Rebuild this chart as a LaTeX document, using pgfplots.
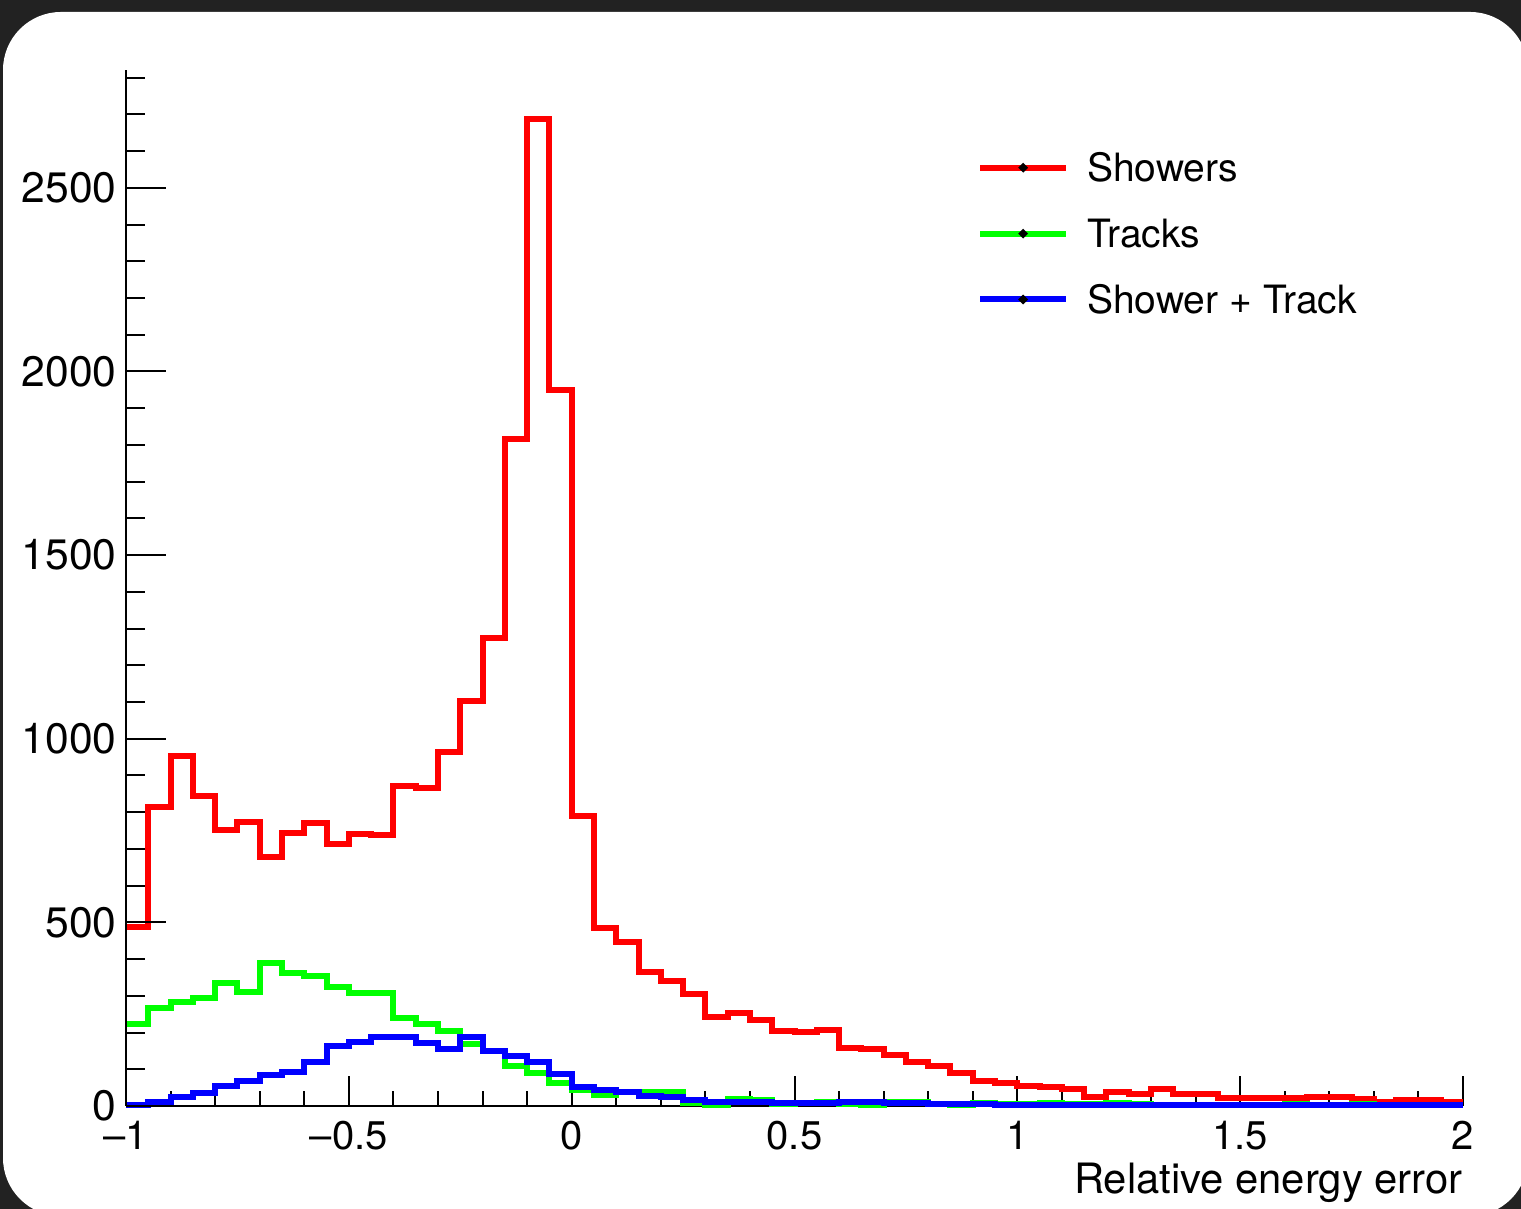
\documentclass[border=0pt]{standalone}
\usepackage{pgfplots}
\pgfplotsset{compat=1.18}
\usepackage{pgfplotstable}
\usepackage{fontspec}
\setmainfont{TeX Gyre Heros}
\definecolor{bgdark}{RGB}{34,34,34}
\definecolor{rootred}{RGB}{255,0,0}
\definecolor{rootgreen}{RGB}{0,255,0}
\definecolor{rootblue}{RGB}{0,0,255}

\pgfplotstableread{
x red green blue
-1.00 487 223 3
-0.95 815 266 12
-0.90 954 284 24
-0.85 845 293 35
-0.80 752 334 54
-0.75 773 310 69
-0.70 677 390 84
-0.65 743 361 93
-0.60 771 354 121
-0.55 713 323 164
-0.50 740 307 175
-0.45 738 307 187
-0.40 871 239 187
-0.35 865 222 171
-0.30 964 205 155
-0.25 1103 170 189
-0.20 1275 150 151
-0.15 1817 108 136
-0.10 2687 90 121
-0.05 1949 62 87
0.00 790 44 52
0.05 484 30 44
0.10 446 38 39
0.15 366 38 26
0.20 340 38 25
0.25 304 8 16
0.30 242 3 12
0.35 252 20 10
0.40 234 16 10
0.45 205 6 8
0.50 202 8 8
0.55 207 10 9
0.60 157 6 10
0.65 154 4 10
0.70 139 10 8
0.75 120 12 7
0.80 109 6 6
0.85 91 3 5
0.90 69 8 5
0.95 63 6 4
1.00 54 5 4
1.05 51 8 4
1.10 45 6 4
1.15 24 5 4
1.20 37 8 3
1.25 32 6 4
1.30 45 4 4
1.35 32 3 3
1.40 32 4 3
1.45 21 3 3
1.50 21 2 3
1.55 21 4 3
1.60 21 6 3
1.65 25 3 3
1.70 25 4 3
1.75 18 6 3
1.80 10 3 4
1.85 16 2 3
1.90 16 3 3
1.95 10 2 3
2.00 10 2 3
}\histdata

\pgfplotsset{
  common/.style={
    scale only axis, width=668.5pt, height=518pt,
    at={(63pt,51.5pt)}, anchor=south west,
    xmin=-1, xmax=2, ymin=0, ymax=2821,
    clip=false,
    /pgf/number format/assume math mode=true,
  },
  fixlines/.style={
    tick align=inside,
    axis line style={-, line width=1pt, black},
    every outer x axis line/.append style={-},
    every outer y axis line/.append style={-},
    every inner x axis line/.append style={-},
    every inner y axis line/.append style={-},
    tick style={line width=1pt, black},
  },
  histo/.style={const plot mark left, line width=3pt, line join=miter, mark=none},
}

\begin{document}
\begin{tikzpicture}
\useasboundingbox (0,0) rectangle (760.5pt,604.5pt);
\fill[bgdark] (0,0) rectangle (760.5pt,604.5pt);
\begin{scope}
\clip (0,0) rectangle (760.5pt,604.5pt);
\fill[white, rounded corners=29pt] (1.5pt,-3.5pt) rectangle (764pt,598.5pt);
\end{scope}

\begin{axis}[common,
  axis x line=bottom, axis y line=left,
  fixlines,
  ytick=\empty,
  xtick={-1,-0.5,0,0.5,1,1.5,2},
  xticklabels={\textendash1,\textendash0.5,0,0.5,1,1.5,2},
  minor xtick={-0.9,-0.8,-0.7,-0.6,-0.4,-0.3,-0.2,-0.1,0.1,0.2,0.3,0.4,0.6,0.7,0.8,0.9,1.1,1.2,1.3,1.4,1.6,1.7,1.8,1.9},
  major tick length=15pt, minor tick length=7.5pt,
  xticklabel style={font=\fontsize{20}{24}\selectfont, anchor=north, inner sep=0pt, yshift=-7.5pt},
  xlabel={Relative energy error},
  xlabel style={font=\fontsize{20.9}{25}\selectfont, at={(axis description cs:1,0)}, anchor=north east, inner sep=0pt, yshift=-28.5pt},
  legend cell align=left,
  legend style={draw=none, fill=none, at={(0.6366,0.9192)}, anchor=north west,
    inner sep=0pt, outer sep=0pt, row sep=18.95pt, column sep=0pt,
    font=\fontsize{19.5}{23}\selectfont, cells={anchor=west},
    nodes={inner sep=0pt, text height=14pt, text depth=0pt}},
  legend image code/.code={\draw[#1] (0pt,0pt) -- (43pt,0pt); \fill[black] (21.5pt,0pt) circle (0.35pt); \path (52pt,0pt);},
]
\addplot[histo, rootred] table[x=x, y=red]{\histdata};
\addlegendentry{Showers}
\addplot[histo, rootgreen] table[x=x, y=green]{\histdata};
\addlegendentry{Tracks}
\addplot[histo, rootblue] table[x=x, y=blue]{\histdata};
\addlegendentry{Shower + Track}
\end{axis}

\begin{axis}[common,
  axis x line=none, axis y line=left,
  fixlines,
  xtick=\empty,
  ytick={0,500,1000,1500,2000,2500},
  yticklabels={0,500,1000,1500,2000,2500},
  minor ytick={100,200,300,400,600,700,800,900,1100,1200,1300,1400,1600,1700,1800,1900,2100,2200,2300,2400,2600,2700,2800},
  major tick length=20pt, minor tick length=9.5pt,
  yticklabel style={font=\fontsize{21.3}{25}\selectfont, anchor=east, inner sep=0pt, xshift=-4.5pt},
]
\end{axis}
\end{tikzpicture}
\end{document}
